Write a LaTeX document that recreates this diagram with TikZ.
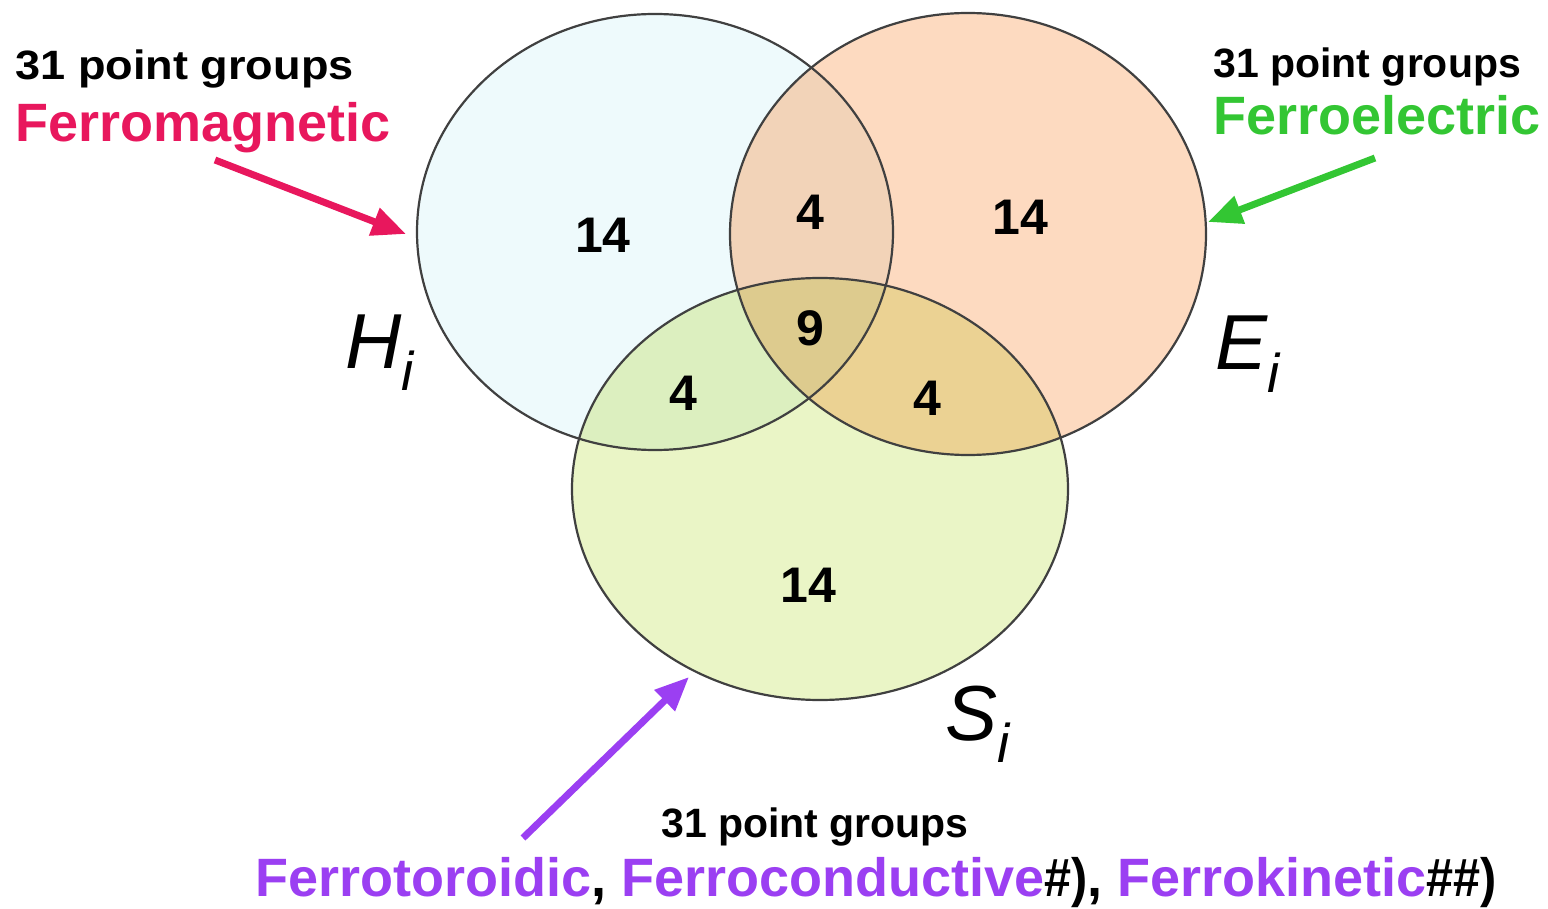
\documentclass[tikz,border=0pt]{standalone}
\usepackage{fontspec}
\setmainfont{Liberation Sans}
\usetikzlibrary{arrows.meta}
\definecolor{Hc}{HTML}{EEFAFC}
\definecolor{Ec}{HTML}{FDDAC0}
\definecolor{Sc}{HTML}{EAF5C6}
\definecolor{HEc}{HTML}{F2D3B8}
\definecolor{HSc}{HTML}{DCEFBF}
\definecolor{ESc}{HTML}{EBD293}
\definecolor{HESc}{HTML}{DDCB8E}
\definecolor{magc}{HTML}{E8175D}
\definecolor{grnc}{HTML}{33C633}
\definecolor{purc}{HTML}{9B3FF2}
\begin{document}
\begin{tikzpicture}[x=0.5pt,y=-0.5pt,
  outline/.style={draw=black!75,line width=1.1pt},
  num/.style={font=\fontsize{25}{27}\selectfont\bfseries,inner sep=0pt},
  small/.style={font=\fontsize{20.5}{22}\selectfont\bfseries,inner sep=0pt,anchor=base west},
  big/.style={font=\fontsize{27}{29}\selectfont\bfseries,inner sep=0pt,anchor=base west},
  setlabel/.style={font=\fontsize{39}{40}\selectfont\itshape,inner sep=0pt,anchor=base west},
  pointer/.style={line width=3.5pt,-{Triangle[length=17pt,width=14pt]}}]
\useasboundingbox (0,0) rectangle (1548,909);
\def\Hpath{(655,232) ellipse [x radius=119pt, y radius=109pt]}
\def\Epath{(968,234) ellipse [x radius=119pt, y radius=110.5pt]}
\def\Spath{(820,489) ellipse [x radius=124pt, y radius=105.5pt]}
% region fills
\fill[Hc] \Hpath;
\fill[Ec] \Epath;
\fill[Sc] \Spath;
\begin{scope}\clip \Hpath; \fill[HEc] \Epath; \end{scope}
\begin{scope}\clip \Hpath; \fill[HSc] \Spath; \end{scope}
\begin{scope}\clip \Epath; \fill[ESc] \Spath; \end{scope}
\begin{scope}\clip \Hpath; \clip \Epath; \fill[HESc] \Spath; \end{scope}
% outlines
\draw[outline] \Hpath;
\draw[outline] \Epath;
\draw[outline] \Spath;
% numbers
\node[num] (nH)   at (603,235) {14};
\node[num] (nHE)  at (810,212) {4};
\node[num] (nE)   at (1020,217) {14};
\node[num] (nHES) at (810,328) {9};
\node[num] (nHS)  at (683,393) {4};
\node[num] (nES)  at (927,398) {4};
\node[num] (nS)   at (808,585) {14};
% set labels
\node[setlabel] (lH) at (345,368) {H\textsubscript{\itshape i}};
\node[setlabel] (lE) at (1215,370) {E\textsubscript{\itshape i}};
\node[setlabel] (lS) at (945,740) {S\textsubscript{\itshape i}};
% text labels
\node[small] (tl1) at (15,80) {\scalebox{1.1}[1]{31 point groups}};
\node[big,text=magc] (tl2) at (15,142) {Ferromagnetic};
\node[small] (tr1) at (1213,78) {31 point groups};
\node[big,text=grnc] (tr2) at (1213,135) {Ferroelectric};
\node[small,anchor=base] (tb1) at (815,837) {31 point groups};
\node[big,text=purc] (tb2) at (255,896) {Ferrotoroidic\textcolor{black}{,} Ferroconductive\textcolor{black}{\scalebox{0.9}[1]{\#)},} Ferrokinetic\textcolor{black}{\scalebox{0.9}[1]{\#\#)}}};
% arrows
\coordinate (mtail) at (215,160);
\coordinate (mtip) at (406,234);
\coordinate (gtail) at (1375,158);
\coordinate (gtip) at (1208,222);
\coordinate (ptail) at (523,838);
\coordinate (ptip) at (689,677);
\draw[pointer,magc] (mtail) -- (mtip);
\draw[pointer,grnc] (gtail) -- (gtip);
\draw[pointer,purc] (ptail) -- (ptip);
\end{tikzpicture}
\end{document}
